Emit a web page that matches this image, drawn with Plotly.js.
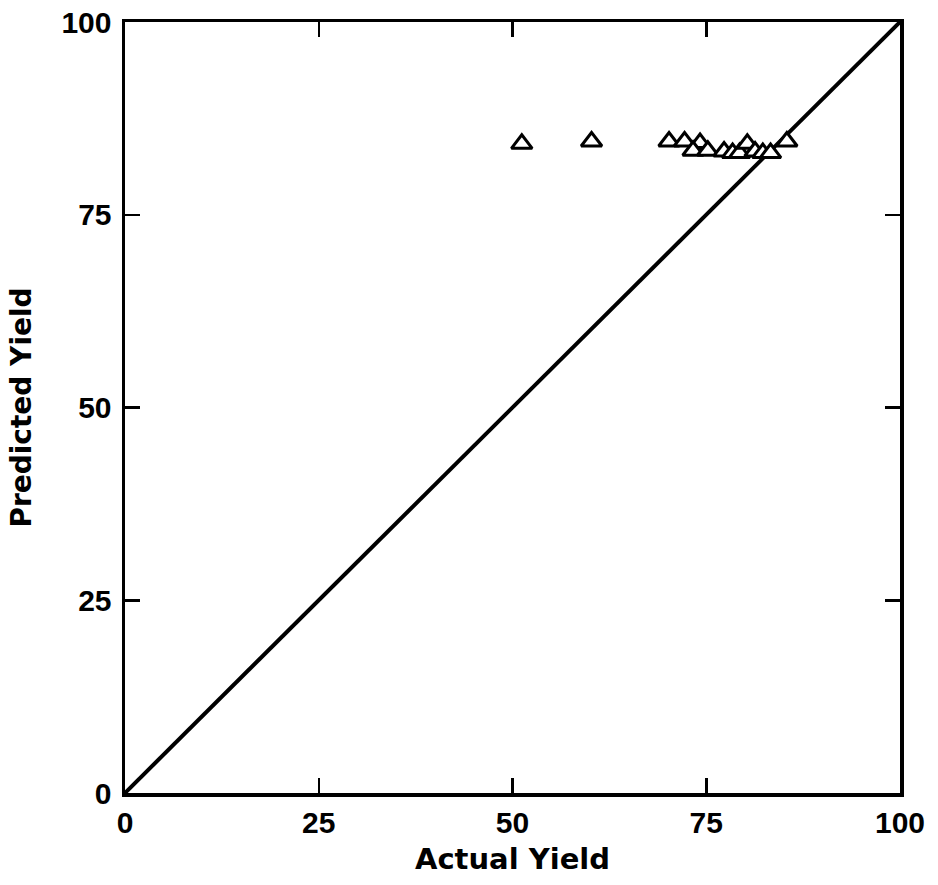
<!DOCTYPE html>
<html>
<head>
<meta charset="utf-8">
<script src="https://cdn.plot.ly/plotly-3.0.1.min.js"></script>
<style>html,body{margin:0;padding:0;background:#fff;}#chart{width:938px;height:885px;}</style>
</head>
<body>
<div id="chart"></div>
<script>
// Data
const actualYield = [51.2, 60.2, 70.2, 72.2, 74.2, 73.3, 75.2, 77.3, 78.4, 79.3, 80.3, 81.3, 82.3, 83.3, 85.4];
const predictedYield = [84.2, 84.5, 84.5, 84.5, 84.3, 83.3, 83.3, 83.2, 83.0, 83.0, 84.2, 83.2, 83.0, 83.0, 84.5];
const lineX = [0, 100];
const lineY = [0, 100];
const tickValues = [0, 25, 50, 75, 100];
const tickLabels = ['0', '25', '50', '75', '100'];

const traces = [
  {
    x: lineX, y: lineY, mode: 'lines', type: 'scatter',
    line: {color: '#000', width: 4}, hoverinfo: 'skip'
  },
  {
    x: actualYield, y: predictedYield, mode: 'markers', type: 'scatter',
    marker: {symbol: 'triangle-up', size: 18, color: '#fff', line: {color: '#000', width: 3}}
  }
];

const axisCommon = {
  range: [0, 100],
  tickvals: tickValues,
  ticktext: tickLabels,
  ticks: 'inside',
  ticklen: 15,
  tickwidth: 2.5,
  tickcolor: '#000',
  showline: true,
  linecolor: '#000',
  linewidth: 3.5,
  mirror: 'ticks',
  showgrid: false,
  zeroline: false,
  tickfont: {family: 'Liberation Sans', size: 30, color: '#000', weight: 'bold'}
};

const layout = {
  width: 938, height: 885,
  margin: {l: 125, r: 38, t: 22, b: 92},
  paper_bgcolor: '#fff', plot_bgcolor: '#fff',
  showlegend: false,
  xaxis: Object.assign({}, axisCommon, {
    ticklabelstandoff: 0,
    title: {text: 'Actual Yield', font: {family: 'DejaVu Sans', size: 29, color: '#000', weight: 'bold'}, standoff: 12}
  }),
  yaxis: Object.assign({}, axisCommon, {
    ticklabelstandoff: 4,
    title: {text: 'Predicted Yield', font: {family: 'DejaVu Sans', size: 28, color: '#000', weight: 'bold'}, standoff: 22}
  })
};

Plotly.newPlot('chart', traces, layout, {displayModeBar: false, staticPlot: true});
</script>
</body>
</html>
